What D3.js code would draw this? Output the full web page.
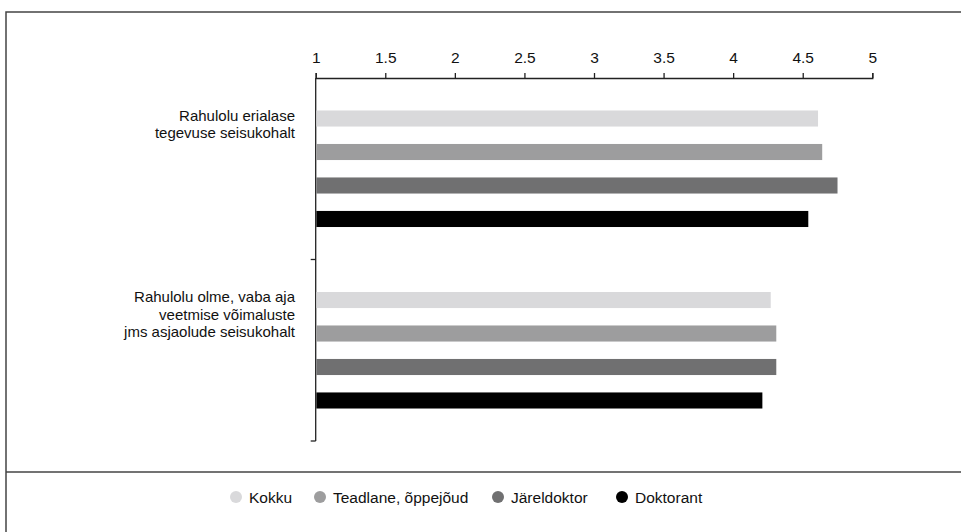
<!DOCTYPE html>
<html>
<head>
<meta charset="utf-8">
<script src="https://cdn.jsdelivr.net/npm/d3@7"></script>
<style>
  body { margin: 0; background: #fff; }
  text { font-family: "Liberation Sans", Arial, sans-serif; fill: #111; }
</style>
</head>
<body>
<svg id="chart" width="961" height="532"></svg>
<script>
// categories (each label split into lines)
var categories = ['erialane', 'olme']
var categoryLines = [
    ['Rahulolu erialase', 'tegevuse seisukohalt'],
    ['Rahulolu olme, vaba aja', 'veetmise võimaluste', 'jms asjaolude seisukohalt']
]
var seriesNames = ['Kokku', 'Teadlane, õppejõud', 'Järeldoktor', 'Doktorant']
var seriesColors = ['#d9d9db', '#9d9d9e', '#707071', '#000000']
var kokku = [4.61, 4.27]
var teadlane = [4.64, 4.31]
var jareldoktor = [4.75, 4.31]
var doktorant = [4.54, 4.21]
var tickValues = [1, 1.5, 2, 2.5, 3, 3.5, 4, 4.5, 5]

var series = [kokku, teadlane, jareldoktor, doktorant]

var svg = d3.select('#chart')

// frame
svg.append('rect')
    .attr('x', 6).attr('y', 12)
    .attr('width', 1000).attr('height', 600)
    .attr('fill', 'none')
    .attr('stroke', '#444')
    .attr('stroke-width', 1.5)
svg.append('line')
    .attr('x1', 6).attr('x2', 961)
    .attr('y1', 472).attr('y2', 472)
    .attr('stroke', '#444')
    .attr('stroke-width', 1.5)

var x = d3.scaleLinear().domain([1, 5]).range([315.7, 872.3])
var y = d3.scaleBand().domain(categories).range([78, 441])
var inner = d3.scaleBand().domain(d3.range(seriesNames.length))
    .range([0, y.bandwidth()]).paddingInner(0.52).paddingOuter(0.97)

// x axis on top
var xAxis = svg.append('g')
    .attr('transform', 'translate(0,78)')
    .call(d3.axisTop(x).tickValues(tickValues).tickSize(5).tickPadding(10)
        .tickFormat(function(d) { return String(d) }))
xAxis.select('.domain').attr('stroke', '#222').attr('stroke-width', 1.3)
xAxis.selectAll('.tick line').attr('stroke', '#222').attr('stroke-width', 1.3)
xAxis.selectAll('text')
    .style('font-size', '15.5px')
    .style('font-family', '"Liberation Sans", Arial, sans-serif')
    .attr('fill', '#111')

// y axis: line plus ticks at band edges
svg.append('line')
    .attr('x1', x(1)).attr('x2', x(1))
    .attr('y1', 78).attr('y2', 441)
    .attr('stroke', '#222').attr('stroke-width', 1.3)
svg.selectAll('.ytick')
    .data(categories)
    .enter()
    .append('line')
    .attr('class', 'ytick')
    .attr('x1', x(1) - 5).attr('x2', x(1))
    .attr('y1', function(d) { return y(d) + y.bandwidth() })
    .attr('y2', function(d) { return y(d) + y.bandwidth() })
    .attr('stroke', '#222').attr('stroke-width', 1.3)

// bars
series.forEach(function(values, si) {
    svg.append('g')
        .selectAll('rect')
        .data(values)
        .enter()
        .append('rect')
        .attr('x', x(1) + 0.7)
        .attr('y', function(d, i) { return y(categories[i]) + inner(si) })
        .attr('width', function(d) { return x(d) - x(1) - 0.7 })
        .attr('height', inner.bandwidth())
        .attr('fill', seriesColors[si])
})

// category labels, one text per line
categories.forEach(function(c, i) {
    categoryLines[i].forEach(function(line, li) {
        svg.append('text')
            .attr('text-anchor', 'end')
            .attr('x', 295)
            .attr('y', y(c) + inner(0) + 10.5 + li * 17.5)
            .style('font-size', '15px')
            .text(line)
    })
})

// legend
var legendX = [236, 320, 498, 622]
var legend = svg.append('g')
seriesNames.forEach(function(name, i) {
    legend.append('circle')
        .attr('cx', legendX[i]).attr('cy', 497).attr('r', 6)
        .attr('fill', seriesColors[i])
    legend.append('text')
        .attr('x', legendX[i] + 13).attr('y', 502.5)
        .style('font-size', '15.5px')
        .text(name)
})
</script>
</body>
</html>
